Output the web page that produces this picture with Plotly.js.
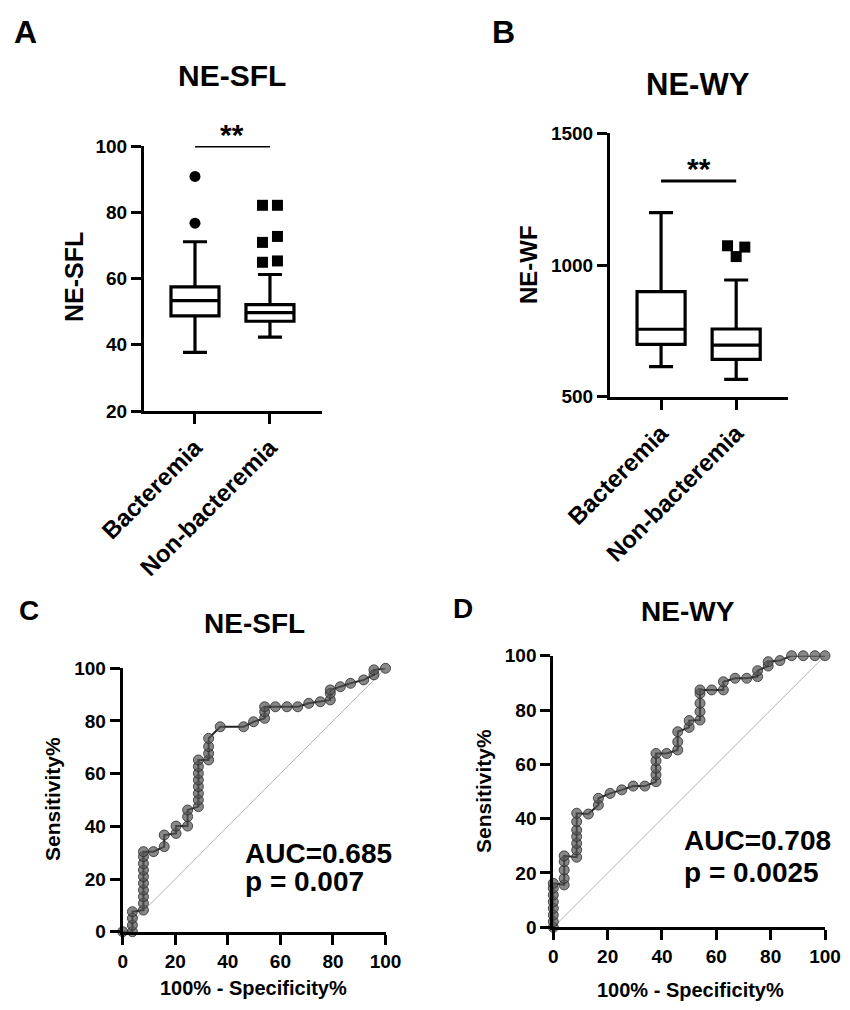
<!DOCTYPE html>
<html>
<head>
<meta charset="utf-8">
<script src="https://cdn.plot.ly/plotly-3.0.1.min.js"></script>
<style>body{margin:0;background:#fff}</style>
</head>
<body>
<div id="myDiv" style="width:850px;height:1010px"></div>
<script>
graphDiv = 'myDiv'

var groups = ['Bacteremia', 'Non-bacteremia']

// A: NE-SFL box stats, one value per group
var sflQ1 = [48.7, 47.1]
var sflMedian = [53.3, 49.7]
var sflQ3 = [57.5, 52.1]
var sflLow = [37.7, 42.3]
var sflHigh = [71.1, 61.2]
var sflOutBact = [90.8, 76.7]
var sflOutNon = [82.1, 82.1, 70.9, 72.7, 64.9, 65.3]
var sflOutNonSide = [-1, 1, -1, 1, -1, 1]
var sflSigY = 100

// B: NE-WF box stats
var wfQ1 = [699, 642]
var wfMedian = [756, 696]
var wfQ3 = [899, 757]
var wfLow = [614, 566]
var wfHigh = [1199, 943]
var wfOutNon = [1073, 1068, 1032]
var wfOutNonSide = [-1, 1, 0]
var wfSigY = 1319

// C: ROC NE-SFL
var sflFpr = [0, 3.7, 3.7, 3.7, 3.7, 7.9, 7.9, 7.9, 7.9, 7.9, 7.9, 7.9, 7.9, 7.9, 7.9, 11.7, 15.8, 15.8, 20.3, 20.3, 24.7, 24.7, 24.7, 28.8, 28.8, 28.8, 28.8, 28.8, 28.8, 28.8, 28.8, 32.7, 32.7, 32.7, 32.7, 37.1, 46, 49.8, 54, 54, 54, 58.1, 62.5, 66.6, 70.8, 75.2, 79, 79, 79, 82.8, 86.7, 91.7, 95.6, 95.6, 100]
var sflTpr = [0, 0, 2.5, 5.1, 7.6, 8.2, 10.8, 13.3, 15.8, 18.4, 20.9, 23.4, 25.9, 28.5, 30.4, 30.4, 32.3, 36.7, 37.3, 40.1, 40.1, 43.7, 46.2, 47.5, 50, 52.5, 55.1, 57.6, 60.1, 62.7, 65.2, 65.2, 67.7, 70.3, 73.4, 77.8, 77.8, 79.7, 81, 83.5, 85.4, 85.4, 85.4, 85.4, 86.7, 87.3, 88, 90.5, 91.8, 93, 94.3, 95.6, 97.5, 99.4, 100]

// D: ROC NE-WY
var wyFpr = [0, 0, 0, 0, 0, 0, 0, 0, 4, 4, 4, 4, 4, 8.6, 8.6, 8.6, 8.6, 8.6, 8.6, 8.6, 12.9, 16.6, 16.6, 20.9, 25.2, 29.4, 33.7, 37.8, 37.8, 37.8, 37.8, 37.8, 41.7, 45.8, 45.8, 45.8, 50, 50, 54, 54, 54, 54, 54, 58.3, 62.6, 62.6, 66.9, 71.2, 75.2, 75.2, 79.1, 79.1, 83.4, 87.7, 92, 96.3, 100]
var wyTpr = [0, 2.1, 4.5, 7, 9.4, 11.9, 14.4, 16.2, 15.6, 18, 21.1, 24.2, 26.3, 25.8, 28.5, 30.9, 33.4, 35.8, 38.9, 42, 41.7, 45, 47.5, 49.3, 50.6, 52, 52, 53.6, 56.1, 58.5, 61.3, 64, 64, 65.3, 68.3, 72, 73.6, 76.1, 76.3, 79.4, 82.5, 86.1, 87.4, 87.4, 87.4, 90.4, 91.7, 91.7, 92.3, 94.5, 96.2, 97.8, 98.2, 100, 100, 100, 100]

var chanceLine = [0, 100]

var FONT = 'Liberation Sans, Arial, sans-serif'
var W = 850, H = 1010
function px(x) { return x / W }
function py(y) { return 1 - y / H }

function boxTrace(q1, med, q3, lo, hi, xa, ya) {
  return {
    type: 'box', x: [0, 1], q1: q1, median: med, q3: q3,
    lowerfence: lo, upperfence: hi, boxpoints: false,
    width: 0.64, whiskerwidth: 0.5,
    fillcolor: 'white', line: { color: 'black', width: 3.2 },
    xaxis: xa, yaxis: ya, showlegend: false, hoverinfo: 'none'
  }
}

function outlierTrace(xs, ys, symbol, xa, ya) {
  return {
    type: 'scatter', mode: 'markers', x: xs, y: ys,
    marker: { symbol: symbol, size: 11, color: 'black' },
    xaxis: xa, yaxis: ya, showlegend: false, cliponaxis: false, hoverinfo: 'none'
  }
}

function rocTraces(fpr, tpr, xa, ya) {
  return [{
    type: 'scatter', mode: 'lines', x: chanceLine, y: chanceLine,
    line: { color: '#b4b4b4', width: 1 }, xaxis: xa, yaxis: ya,
    showlegend: false, hoverinfo: 'none'
  }, {
    type: 'scatter', mode: 'lines+markers', x: fpr, y: tpr,
    line: { color: '#222', width: 2 },
    marker: { size: 10, color: 'rgba(85,85,85,0.7)', line: { color: 'rgba(45,45,45,0.8)', width: 1 } },
    xaxis: xa, yaxis: ya, showlegend: false, cliponaxis: false, hoverinfo: 'none'
  }]
}

var data = []
data.push(boxTrace(sflQ1, sflMedian, sflQ3, sflLow, sflHigh, 'x', 'y'))
data.push(outlierTrace(sflOutBact.map(function () { return 0 }), sflOutBact, 'circle', 'x', 'y'))
data.push(outlierTrace(sflOutNonSide.map(function (s) { return 1 + s * 0.1 }), sflOutNon, 'square', 'x', 'y'))
data.push(boxTrace(wfQ1, wfMedian, wfQ3, wfLow, wfHigh, 'x2', 'y2'))
data.push(outlierTrace(wfOutNonSide.map(function (s) { return 1 + s * 0.115 }), wfOutNon, 'square', 'x2', 'y2'))
data = data.concat(rocTraces(sflFpr, sflTpr, 'x3', 'y3'))
data = data.concat(rocTraces(wyFpr, wyTpr, 'x4', 'y4'))

function baseAxis(extra) {
  var ax = {
    showline: true, linewidth: 3, linecolor: 'black', showgrid: false, zeroline: false,
    ticks: 'outside', ticklen: 10, tickwidth: 3, tickcolor: 'black',
    tickfont: { family: FONT, size: 19, color: 'black', weight: 'bold' },
    fixedrange: true
  }
  for (var k in extra) ax[k] = extra[k]
  return ax
}

var catAxis = {
  range: [-0.68, 1.69], tickvals: [0, 1], ticktext: groups, tickangle: -45,
  tickfont: { family: FONT, size: 24, color: 'black', weight: 'bold' }
}

function txt(text, x, y, size, extra) {
  var a = {
    text: text, x: x, y: y, xref: 'paper', yref: 'paper', showarrow: false,
    xanchor: 'center', yanchor: 'middle',
    font: { family: FONT, size: size, color: 'black', weight: 'bold' }
  }
  for (var k in extra) a[k] = extra[k]
  return a
}

var annotations = [
  txt('A', px(25), py(32), 32),
  txt('B', px(503), py(32), 32),
  txt('C', px(29), py(610), 28),
  txt('D', px(463), py(608), 28),
  txt('NE-SFL', px(232), py(76), 30),
  txt('NE-WY', px(698), py(85), 31),
  txt('NE-SFL', px(254), py(623), 28),
  txt('NE-WY', px(688), py(611), 28),
  txt('NE-SFL', px(74), py(277), 25, { textangle: -90 }),
  txt('NE-WF', px(528), py(265), 24, { textangle: -90 }),
  txt('Sensitivity%', px(52), py(799), 21, { textangle: -90 }),
  txt('Sensitivity%', px(483), py(791), 21, { textangle: -90 }),
  txt('100% - Specificity%', px(253), py(988), 20),
  txt('100% - Specificity%', px(690), py(990), 20),
  txt('**', 0.5, sflSigY, 30, { xref: 'x', yref: 'y', yshift: 12 }),
  txt('**', 0.5, wfSigY, 30, { xref: 'x2', yref: 'y2', yshift: 12 }),
  txt('AUC=0.685', 45.8, 29.8, 28, { xref: 'x3', yref: 'y3', xanchor: 'left' }),
  txt('p = 0.007', 45.8, 19.0, 28, { xref: 'x3', yref: 'y3', xanchor: 'left' }),
  txt('AUC=0.708', 47.3, 31.8, 28, { xref: 'x4', yref: 'y4', xanchor: 'left' }),
  txt('p = 0.0025', 47.3, 20.2, 28, { xref: 'x4', yref: 'y4', xanchor: 'left' })
]

var shapes = [
  { type: 'line', xref: 'x', yref: 'y', x0: 0, x1: 1, y0: sflSigY, y1: sflSigY, line: { color: 'black', width: 3 } },
  { type: 'line', xref: 'x2', yref: 'y2', x0: 0, x1: 1, y0: wfSigY, y1: wfSigY, line: { color: 'black', width: 3 } }
]

var layout = {
  width: W, height: H,
  margin: { l: 0, r: 0, t: 0, b: 0 },
  paper_bgcolor: 'white', plot_bgcolor: 'white',
  font: { family: FONT, color: 'black' },
  showlegend: false,
  xaxis: baseAxis(Object.assign({ domain: [px(144), px(321.7)], anchor: 'y' }, catAxis)),
  yaxis: baseAxis({ domain: [py(411), py(146)], anchor: 'x', range: [20, 100], tick0: 20, dtick: 20 }),
  xaxis2: baseAxis(Object.assign({ domain: [px(610), px(788)], anchor: 'y2' }, catAxis)),
  yaxis2: baseAxis({ domain: [py(396.7), py(133.3)], anchor: 'x2', range: [500, 1500], tick0: 500, dtick: 500 }),
  xaxis3: baseAxis({ domain: [px(122.7), px(385.5)], anchor: 'y3', range: [0, 100], dtick: 20 }),
  yaxis3: baseAxis({ domain: [py(931.7), py(668.3)], anchor: 'x3', range: [0, 100], dtick: 20 }),
  xaxis4: baseAxis({ domain: [px(553.3), px(825)], anchor: 'y4', range: [0, 100], dtick: 20 }),
  yaxis4: baseAxis({ domain: [py(927.3), py(655.7)], anchor: 'x4', range: [0, 100], dtick: 20 }),
  annotations: annotations,
  shapes: shapes
}

Plotly.newPlot(graphDiv, data, layout, { displayModeBar: false, staticPlot: true })
</script>
</body>
</html>
